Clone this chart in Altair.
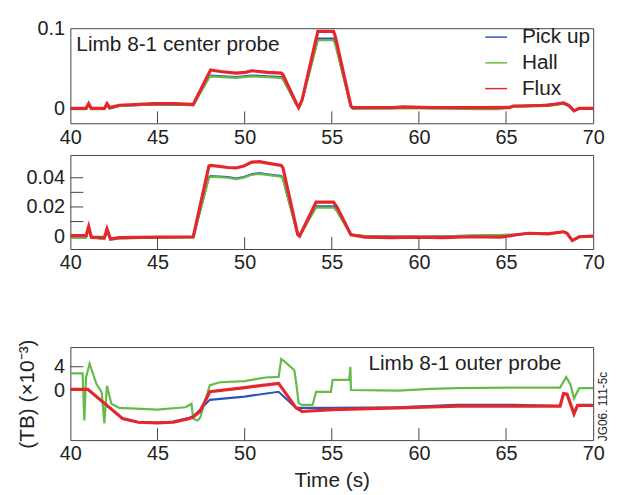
import altair as alt
import pandas as pd

# ---------------- data ----------------
SERIES = ["Pick up", "Hall", "Flux"]
COLORS = ["#2f55b4", "#66bb48", "#e5262d"]
X_TICKS = [40, 45, 50, 55, 60, 65, 70]
X_INNER_TICKS = [45, 50, 55, 60, 65]

# Panel 1: Limb 8-1 center probe (top)
t1_pick = [40, 40.9, 41.05, 41.2, 41.95, 42.1, 42.25, 42.8, 44.8, 47.05, 47.95, 48.05, 49.5, 50.4, 52.1, 52.2,
           53.0, 53.1, 53.3, 54.2, 55.1, 55.2, 56.1, 56.2, 65.4, 68.3, 68.6, 68.9, 69.2, 70]
y1_pick = [0, 0, 0.005, 0, 0, 0.005, 0, 0.003, 0.005, 0.004, 0.039, 0.041, 0.039, 0.041, 0.039, 0.037,
           0.004, 0.001, 0.01, 0.087, 0.087, 0.082, 0.002, 0, 0.002, 0.006, 0.003, -0.003, 0, 0]
t1_hall = [40, 40.9, 41.05, 41.2, 41.95, 42.1, 42.25, 42.8, 44.8, 45.9, 47.05, 47.95, 48.05, 49.5, 50.4, 51.3,
           52.1, 52.2, 53.0, 53.1, 53.3, 54.2, 55.1, 55.2, 56.1, 56.2, 60.7, 63.5, 64.5, 65.4, 67.4, 68.3,
           68.6, 68.9, 69.2, 70]
y1_hall = [-0.001, -0.001, 0.005, -0.001, -0.001, 0.005, 0, 0.003, 0.005, 0.005, 0.004, 0.038, 0.040, 0.038,
           0.040, 0.039, 0.038, 0.036, 0.004, 0.001, 0.01, 0.085, 0.085, 0.08, 0.002, 0, 0, -0.001, -0.001,
           0.002, 0.003, 0.006, 0.003, -0.003, 0, 0]
t1_flux = [40, 40.9, 41.05, 41.2, 41.95, 42.1, 42.25, 42.8, 44.8, 45.9, 47.05, 47.95, 48.05, 48.6, 49.5, 50.05,
           50.4, 51.3, 52.1, 52.2, 53.0, 53.1, 53.3, 54.2, 54.3, 55.1, 55.2, 56.1, 56.2, 58.5, 59.1, 60.7,
           65.2, 65.4, 67.4, 68.3, 68.6, 68.9, 69.2, 70]
y1_flux = [0, 0, 0.006, 0, 0, 0.006, 0.001, 0.004, 0.006, 0.006, 0.005, 0.044, 0.048, 0.046, 0.044, 0.045,
           0.047, 0.045, 0.044, 0.042, 0.005, 0.001, 0.011, 0.096, 0.096, 0.096, 0.09, 0.003, 0.001, 0.001,
           0.002, 0.001, 0.001, 0.003, 0.004, 0.007, 0.004, -0.003, 0, 0]

# Panel 2: center probe (middle)
t2_hall = [40, 40.9, 41.05, 41.2, 41.95, 42.1, 42.3, 42.8, 45.0, 47.05, 47.95, 48.05, 49.05, 49.5, 49.95,
           50.4, 50.85, 51.3, 52.1, 52.2, 53.05, 53.15, 54.1, 55.1, 55.3, 56.1, 56.9, 60, 65.6, 66.3, 67.4,
           68.3, 68.5, 68.8, 69.2, 70]
y2_hall = [-0.001, -0.001, 0.006, -0.001, -0.002, 0.004, -0.0025, -0.0015, -0.001, -0.0008, 0.040, 0.0407,
           0.040, 0.039, 0.040, 0.042, 0.0427, 0.042, 0.0407, 0.039, 0.001, 0, 0.0196, 0.0196, 0.017, 0.001,
           0, -0.0004, 0.001, 0.002, 0.0016, 0.003, 0.002, -0.003, -0.0004, 0]
t2_pick = t2_hall
y2_pick = [-0.0008, -0.0008, 0.006, -0.0008, -0.0018, 0.004, -0.0022, -0.0013, -0.0008, -0.0006, 0.0405,
           0.0412, 0.0405, 0.0395, 0.0405, 0.0424, 0.0431, 0.0424, 0.0411, 0.0394, 0.001, 0, 0.0204, 0.0204,
           0.0178, 0.001, 0, -0.0004, 0.001, 0.002, 0.0016, 0.003, 0.002, -0.003, -0.0004, 0]
t2_flux = [40, 40.9, 41.05, 41.2, 41.95, 42.1, 42.3, 42.8, 45.0, 47.05, 47.95, 48.05, 49.05, 49.5, 49.95,
           50.4, 50.85, 51.3, 52.1, 52.2, 53.05, 53.15, 54.1, 55.1, 55.3, 56.1, 56.9, 58.5, 59.8, 61.4, 62.9,
           64.7, 65.6, 66.3, 67.4, 68.3, 68.5, 68.8, 69.2, 70]
y2_flux = [0.0004, 0.0004, 0.0067, -0.0007, -0.001, 0.005, -0.002, -0.001, -0.0007, -0.0004, 0.048, 0.0484,
           0.047, 0.0467, 0.048, 0.0507, 0.051, 0.050, 0.0484, 0.0467, 0.001, 0, 0.0233, 0.0233, 0.020, 0.001,
           -0.0007, -0.001, -0.0007, -0.001, -0.0004, -0.0007, 0.001, 0.002, 0.0016, 0.003, 0.002, -0.003,
           -0.0004, 0]

# Panel 3: Limb 8-1 outer probe (x10^-3)
t3_pick = [40, 41.0, 42.35, 43.0, 43.9, 45.0, 45.9, 46.8, 47.05, 47.44, 48.0, 50.0, 51.95, 52.95, 53.3, 55.05,
           58.8, 62.2, 65.5, 68.1, 68.3, 68.5, 68.9, 69.1, 70]
y3_pick = [0.2, 0.2, -3.1, -4.7, -5.3, -5.4, -5.2, -4.6, -4.3, -3.2, -1.55, -1.0, -0.2, -2.9, -2.9, -2.9,
           -2.8, -2.4, -2.4, -2.6, -0.5, -0.6, -3.9, -2.4, -2.4]
t3_hall = [40, 40.7, 40.8, 40.9, 41.1, 41.5, 41.8, 41.95, 42.1, 42.35, 42.8, 45.0, 46.6, 46.95, 47.05, 47.3,
           47.44, 48.0, 48.6, 50.0, 51.2, 51.95, 52.1, 52.4, 52.85, 52.95, 53.1, 53.3, 53.9, 54.1, 54.95, 55.05,
           56.0, 56.07, 56.1, 58.8, 60.7, 62.2, 65.2, 68.1, 68.45, 68.7, 68.9, 69.2, 70]
y3_hall = [2.9, 2.9, -5.0, 2.2, 4.5, 1.1, -0.3, -5.5, 0.8, -2.2, -2.9, -3.2, -2.8, -2.2, -4.7, -5.0, -4.6, 0.9,
           1.4, 1.6, 2.2, 2.3, 5.3, 4.6, 3.4, 1.5, -2.1, -2.4, -2.4, -0.2, -0.2, 1.8, 1.8, 4.0, 0.1, 0.0, 0.3,
           0.4, 0.5, 0.5, 2.3, 1.0, -1.3, 0.4, 0.4]
t3_flux = [40, 41.0, 42.35, 43.0, 43.9, 45.0, 45.9, 46.8, 47.05, 47.44, 48.0, 50.0, 51.95, 52.95, 53.3, 55.05,
           58.8, 62.2, 65.2, 68.1, 68.3, 68.5, 68.9, 69.1, 70]
y3_flux = [0.2, 0.2, -3.1, -4.7, -5.3, -5.4, -5.3, -4.7, -4.4, -3.5, -0.2, 0.5, 1.2, -2.9, -3.5, -3.2, -2.9,
           -2.6, -2.6, -2.6, -0.5, -0.6, -3.9, -2.5, -2.5]

# ---------------- styling ----------------
W = 528
FONT = "Liberation Sans"
FRAME = "#444444"
TXT = "#222222"
WIDTHS = {"Hall": 2.2, "Pick up": 2.2, "Flux": 3.2}
DRAW_ORDER = ["Pick up", "Hall", "Flux"]


def frame(tp, yp, th, yh, tf, yf):
    rows = []
    for name, t, y in (("Pick up", tp, yp), ("Hall", th, yh), ("Flux", tf, yf)):
        rows += [{"t": a, "v": b, "series": name} for a, b in zip(t, y)]
    return pd.DataFrame(rows)


def x_enc(field="t", title=None):
    return alt.X(f"{field}:Q",
                 scale=alt.Scale(domain=[40, 70], nice=False, zero=False),
                 axis=alt.Axis(values=X_TICKS, title=title, tickSize=0, domain=False, grid=False,
                               labelFontSize=20, labelFont=FONT, labelColor=TXT, labelPadding=4,
                               titleFontSize=21, titleFont=FONT, titleColor=TXT, titleFontWeight="normal",
                               titlePadding=6, labelFlush=False))


def y_enc(ydom, yvals, title=None, field="v"):
    return alt.Y(f"{field}:Q",
                 scale=alt.Scale(domain=ydom, nice=False, zero=False),
                 axis=alt.Axis(values=yvals, title=title, tickSize=0, domain=False, grid=False, format="~g",
                               labelFontSize=20, labelFont=FONT, labelColor=TXT, labelPadding=6,
                               titleFontSize=21, titleFont=FONT, titleColor=TXT, titleFontWeight="normal",
                               titlePadding=16))


def panel(df, ydom, yvals, h, yticks=(), legend=False, xtitle=None, ytitle=None):
    leg = None
    if legend:
        leg = alt.Legend(title=None, orient="none", legendX=418, legendY=-3, symbolType="stroke",
                         symbolSize=484, symbolStrokeWidth=1.5, labelFontSize=21, labelFont=FONT,
                         labelColor=TXT, rowPadding=4, labelOffset=14)
    layers = []
    for name in DRAW_ORDER:
        layers.append(
            alt.Chart(df).transform_filter(alt.datum.series == name)
            .mark_line(strokeWidth=WIDTHS[name], interpolate="linear", clip=True)
            .encode(x=x_enc(title=xtitle), y=y_enc(ydom, yvals, ytitle),
                    color=alt.Color("series:N", scale=alt.Scale(domain=SERIES, range=COLORS), legend=leg))
        )
    # inward ticks on the bottom frame
    layers.append(
        alt.Chart(pd.DataFrame({"t": X_INNER_TICKS})).mark_rule(color=FRAME, strokeWidth=1)
        .encode(x=x_enc(title=xtitle), y=alt.value(h), y2=alt.value(h - 12))
    )
    if yticks:
        layers.append(
            alt.Chart(pd.DataFrame({"v": list(yticks)})).mark_rule(color=FRAME, strokeWidth=1)
            .encode(y=y_enc(ydom, yvals, ytitle), x=alt.value(0), x2=alt.value(13))
        )
    return alt.layer(*layers).properties(width=W, height=h)


df1 = frame(t1_pick, y1_pick, t1_hall, y1_hall, t1_flux, y1_flux)
df2 = frame(t2_pick, y2_pick, t2_hall, y2_hall, t2_flux, y2_flux)
df3 = frame(t3_pick, y3_pick, t3_hall, y3_hall, t3_flux, y3_flux)

p1 = panel(df1, [-0.0185, 0.1], [0, 0.1], 96, legend=True)
lab1 = alt.Chart(pd.DataFrame({"label": ["Limb 8-1 center probe"]})).mark_text(
    align="left", baseline="middle", fontSize=21, font=FONT, color=TXT
).encode(x=alt.value(6), y=alt.value(17), text="label:N")
p1 = alt.layer(p1, lab1)

p2 = panel(df2, [-0.0088, 0.0556], [0, 0.02, 0.04], 95, yticks=[0.01, 0.02, 0.03, 0.04])

p3 = panel(df3, [-8.3, 7.3], [0, 4], 94, yticks=[4], xtitle="Time (s)", ytitle="(TB) (×10⁻³)")
lab3 = alt.Chart(pd.DataFrame({"label": ["Limb 8-1 outer probe"]})).mark_text(
    align="left", baseline="middle", fontSize=21, font=FONT, color=TXT
).encode(x=alt.value(301), y=alt.value(17), text="label:N")
code3 = alt.Chart(pd.DataFrame({"label": ["JG06. 111-5c"]})).mark_text(
    align="center", baseline="middle", fontSize=12, font=FONT, color=TXT, angle=270
).encode(x=alt.value(W + 10), y=alt.value(60), text="label:N")
p3 = alt.layer(p3, lab3, code3)

spacer = alt.Chart(pd.DataFrame({"a": [0]})).mark_point(opacity=0).encode(
    x=alt.value(0), y=alt.value(0)
).properties(width=W, height=35, view=alt.ViewBackground(strokeWidth=0))

chart = alt.vconcat(p1, p2, spacer, p3, spacing=32, bounds="flush").resolve_scale(
    color="independent"
).properties(
    padding={"left": 8, "top": 7, "right": 0, "bottom": 0}
).configure_view(stroke=FRAME, strokeWidth=1)

chart.save("out.html", embed_options={"renderer": "svg", "actions": False})
